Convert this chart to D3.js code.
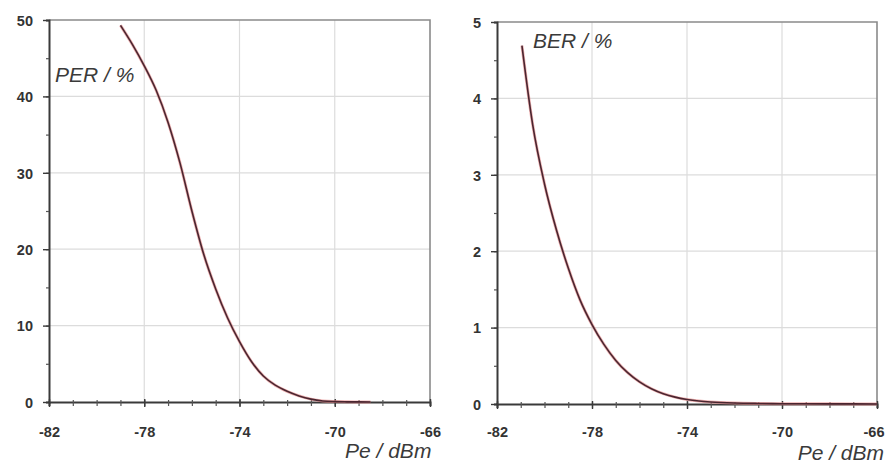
<!DOCTYPE html>
<html>
<head>
<meta charset="utf-8">
<script src="https://cdn.jsdelivr.net/npm/d3@7"></script>
<style>
  html, body { margin: 0; padding: 0; background: #fff; }
  svg { display: block; }
  .tick-label { font-family: "Liberation Sans", Arial, sans-serif; font-weight: bold; font-size: 14.5px; fill: #333; }
  .axis-title { font-family: "Liberation Sans", Arial, sans-serif; font-style: italic; font-size: 21px; fill: #3a3a3a; }
</style>
</head>
<body>
<svg id="chart" width="885" height="465"></svg>
<script>
// Received power levels (dBm) and the measured error rates
const perPower = [-79, -78.5, -78, -77.5, -77, -76.5, -76, -75.5, -75, -74.5, -74, -73.5, -73, -72.5, -72, -71.5, -71, -70.5, -70, -69.5, -69, -68.5];
const perValues = [49.3, 46.8, 44.0, 40.8, 36.6, 31.3, 25.0, 19.3, 14.8, 11.0, 7.9, 5.3, 3.4, 2.2, 1.4, 0.8, 0.38, 0.14, 0.05, 0.02, 0.01, 0];

const berPower = [-80.95, -80.5, -80, -79.5, -79, -78.5, -78, -77.5, -77, -76.5, -76, -75.5, -75, -74.5, -74, -73.5, -73, -72, -71, -70, -68, -66];
const berValues = [4.69, 3.66, 2.88, 2.28, 1.78, 1.36, 1.04, 0.78, 0.57, 0.41, 0.29, 0.2, 0.135, 0.09, 0.06, 0.04, 0.027, 0.013, 0.007, 0.004, 0.002, 0];

// Axis ticks
const xTicks = [-82, -78, -74, -70, -66];
const perTicks = [0, 10, 20, 30, 40, 50];
const berTicks = [0, 1, 2, 3, 4, 5];

const svg = d3.select("#chart");

function drawPanel(cfg) {
  const g = svg.append("g");
  const x = d3.scaleLinear().domain([-82, -66]).range([cfg.left, cfg.right]);
  const y = d3.scaleLinear().domain([0, cfg.yMax]).range([cfg.bottom, cfg.top]);

  // Grid lines
  g.append("g").selectAll("line").data(xTicks.slice(1, -1)).join("line")
    .attr("x1", d => x(d)).attr("x2", d => x(d))
    .attr("y1", cfg.top).attr("y2", cfg.bottom)
    .attr("stroke", "#dcdcdc").attr("stroke-width", 1.2);
  g.append("g").selectAll("line").data(cfg.yTicks.slice(1, -1)).join("line")
    .attr("x1", cfg.left).attr("x2", cfg.right)
    .attr("y1", d => y(d)).attr("y2", d => y(d))
    .attr("stroke", "#dcdcdc").attr("stroke-width", 1.2);

  // Frame (top and right)
  g.append("path")
    .attr("d", `M${cfg.left},${cfg.top}H${cfg.right}V${cfg.bottom}`)
    .attr("fill", "none").attr("stroke", "#8a8a8a").attr("stroke-width", 1.6);

  // Y axis: minor then major ticks
  const yMinor = d3.range(0, cfg.yMax + 1e-9, cfg.yMinorStep);
  g.append("g").attr("transform", `translate(${cfg.left},0)`)
    .call(d3.axisLeft(y).tickValues(yMinor).tickSize(3).tickFormat(""))
    .call(s => s.select(".domain").attr("stroke", "#3a3a3a").attr("stroke-width", 2))
    .call(s => s.selectAll(".tick line").attr("stroke", "#555").attr("stroke-width", 1.2));
  g.append("g").attr("transform", `translate(${cfg.left},0)`)
    .call(d3.axisLeft(y).tickValues(cfg.yTicks).tickSize(6).tickPadding(10).tickFormat(d => String(d)))
    .call(s => s.select(".domain").remove())
    .call(s => s.selectAll(".tick line").attr("stroke", "#3a3a3a").attr("stroke-width", 1.4))
    .call(s => s.selectAll(".tick text").attr("class", "tick-label").attr("dy", "0.36em"));

  // X axis: minor then major ticks
  const xMinor = d3.range(-82, -66 + 1e-9, 1);
  g.append("g").attr("transform", `translate(0,${cfg.bottom})`)
    .call(d3.axisBottom(x).tickValues(xMinor).tickSize(4).tickFormat(""))
    .call(s => s.select(".domain").attr("stroke", "#3a3a3a").attr("stroke-width", 2))
    .call(s => s.selectAll(".tick line").attr("stroke", "#555").attr("stroke-width", 1.2).attr("y1", -2));
  const xLabels = g.append("g").attr("transform", `translate(0,${cfg.bottom})`)
    .call(d3.axisBottom(x).tickValues(xTicks).tickSize(5).tickFormat(d => String(d)))
    .call(s => s.select(".domain").remove())
    .call(s => s.selectAll(".tick line").attr("stroke", "#3a3a3a").attr("stroke-width", 1.4).attr("y1", -3))
    .call(s => s.selectAll(".tick text").attr("class", "tick-label").attr("dy", "0").attr("y", cfg.xLabelOffset));
  if (cfg.lastTickEnd) {
    xLabels.selectAll(".tick text").filter(d => d === -66)
      .attr("text-anchor", "end").attr("x", cfg.lastTickEnd - x(-66));
  }

  // Error-rate curve
  const pts = cfg.power.map((p, i) => [p, cfg.values[i]]);
  const line = d3.line().x(d => x(d[0])).y(d => y(d[1])).curve(d3.curveMonotoneX);
  g.append("path").datum(pts).attr("d", line)
    .attr("fill", "none").attr("stroke", "#e79090").attr("stroke-width", 3).attr("stroke-opacity", 0.7);
  g.append("path").datum(pts).attr("d", line)
    .attr("fill", "none").attr("stroke", "#4a2630").attr("stroke-width", 1.6);

  // Axis titles
  g.append("text").attr("class", "axis-title")
    .attr("x", cfg.yLabelX).attr("y", cfg.yLabelY).text(cfg.yLabel);
  g.append("text").attr("class", "axis-title")
    .attr("text-anchor", cfg.xLabelAnchor)
    .attr("x", cfg.xLabelX).attr("y", cfg.xLabelY).text("Pe / dBm");
}

drawPanel({
  left: 49, right: 430, top: 20, bottom: 402,
  yMax: 50, yTicks: perTicks, yMinorStep: 5,
  power: perPower, values: perValues,
  yLabel: "PER / %", yLabelX: 55, yLabelY: 82,
  xLabelX: 345, xLabelY: 458, xLabelAnchor: "start", xLabelOffset: 35
});

drawPanel({
  left: 497, right: 877, top: 22, bottom: 404,
  yMax: 5, yTicks: berTicks, yMinorStep: 0.5,
  power: berPower, values: berValues,
  yLabel: "BER / %", yLabelX: 533, yLabelY: 48,
  xLabelX: 884, xLabelY: 460, xLabelAnchor: "end", xLabelOffset: 33,
  lastTickEnd: 884
});
</script>
</body>
</html>
